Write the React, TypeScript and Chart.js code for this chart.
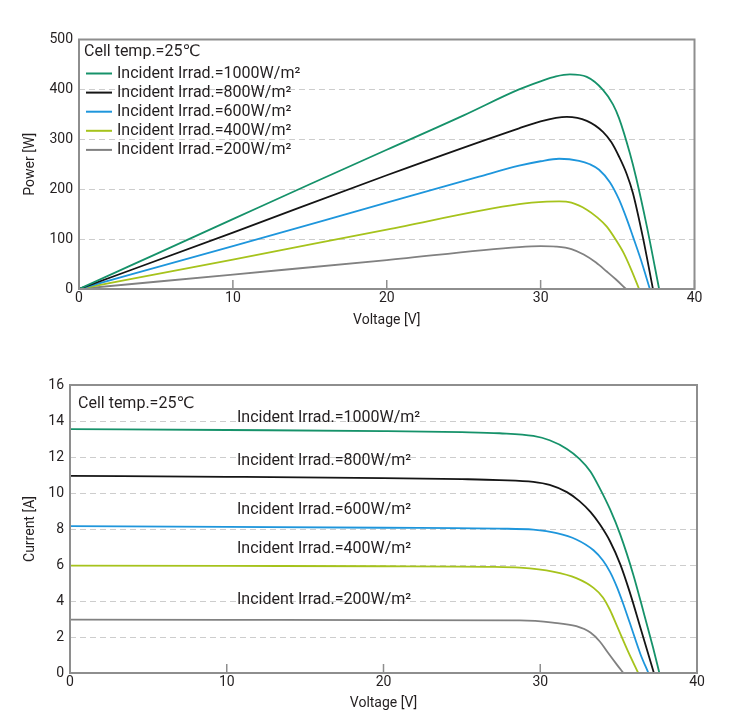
import React, { useEffect, useRef } from "react";
import { Chart, registerables } from "chart.js";

Chart.register(...registerables);

// ---------- text ----------
const CELL_TEMP_TEXT = "Cell temp.=25℃";
const SERIES_LABELS = [
  "Incident Irrad.=1000W/m²",
  "Incident Irrad.=800W/m²",
  "Incident Irrad.=600W/m²",
  "Incident Irrad.=400W/m²",
  "Incident Irrad.=200W/m²",
];
const X_TITLE = "Voltage [V]";
const PV_Y_TITLE = "Power [W]";
const IV_Y_TITLE = "Current [A]";

// ---------- axes ----------
const X_MIN = 0, X_MAX = 40, X_STEP = 10;
const PV_Y_MIN = 0, PV_Y_MAX = 500, PV_Y_STEP = 100;
const IV_Y_MIN = 0, IV_Y_MAX = 16, IV_Y_STEP = 2;

// ---------- P-V data (voltage V, power W) ----------
const PV_V_1000 = [0, 5, 10, 15, 20, 25, 28.6, 29.9, 31, 31.9, 33, 34.05, 34.7, 35.1, 35.8, 36.2, 36.9, 37.7];
const PV_P_1000 = [0, 70, 140, 210, 279, 348, 400, 415, 426, 430, 425, 399, 370, 342, 272, 224, 126, 0];
const PV_V_800 = [0, 10, 20, 28.6, 30, 31, 31.7, 33, 34.05, 34.6, 35.1, 35.6, 36, 36.65, 37.3];
const PV_P_800 = [0, 113, 228, 322, 336, 343, 345, 337, 315, 294, 265, 230, 192, 103, 0];
const PV_V_600 = [0, 10, 20, 26, 28.6, 30, 31.2, 32.5, 33.2, 33.8, 34.5, 35.1, 35.6, 36, 36.5, 37.1];
const PV_P_600 = [0, 86, 173, 225, 247, 256, 261, 257, 250, 239, 214, 179, 140, 105, 60, 0];
const PV_V_400 = [0, 10, 20, 28.6, 30.4, 31.2, 32, 33, 33.7, 34.3, 34.9, 35.4, 35.9, 36.4];
const PV_P_400 = [0, 59, 119, 170, 175, 175.5, 173, 159, 143, 125, 98, 72, 38, 0];
const PV_V_200 = [0, 10, 20, 28.6, 30, 31, 32, 32.8, 33.6, 34.3, 34.9, 35.55];
const PV_P_200 = [0, 29, 58, 84, 86, 85, 80, 69, 53, 35, 19, 0];

// ---------- I-V data (voltage V, current A) ----------
const IV_V_1000 = [0, 10, 20, 25, 27.4, 29.56, 30.6, 31.7, 32.5, 33.2, 33.8, 34.45, 35.1, 35.94, 36.6, 37.2, 37.6];
const IV_I_1000 = [13.55, 13.5, 13.44, 13.38, 13.32, 13.17, 12.93, 12.45, 11.9, 11.2, 10.26, 9.1, 7.7, 5.45, 3.35, 1.4, 0];
const IV_V_800 = [0, 10, 20, 25, 27.4, 29.56, 30.6, 31.7, 32.5, 33.2, 33.8, 34.45, 35.1, 35.7, 36.4, 37.25];
const IV_I_800 = [10.95, 10.9, 10.83, 10.77, 10.72, 10.62, 10.45, 10.05, 9.55, 8.95, 8.26, 7.32, 6.05, 4.52, 2.49, 0];
const IV_V_600 = [0, 10, 20, 27.4, 29.56, 31.05, 32.3, 33.4, 34, 34.45, 34.9, 35.2, 35.7, 36.4, 36.9];
const IV_I_600 = [8.16, 8.12, 8.07, 8.02, 7.96, 7.77, 7.42, 6.82, 6.25, 5.62, 4.76, 4.07, 2.82, 1.03, 0];
const IV_V_400 = [0, 10, 20, 27, 28.7, 30.8, 32.3, 33.4, 34, 34.45, 34.9, 35.6, 36.25];
const IV_I_400 = [5.97, 5.95, 5.93, 5.9, 5.85, 5.63, 5.27, 4.73, 4.2, 3.5, 2.6, 1.2, 0];
const IV_V_200 = [0, 10, 20, 28.7, 30.8, 32.3, 33.2, 33.8, 34.3, 34.9, 35.3];
const IV_I_200 = [2.96, 2.95, 2.94, 2.92, 2.8, 2.6, 2.25, 1.75, 1.15, 0.45, 0];

// anchors (data coords) for the curve labels in the I-V chart
const IV_LABEL_V = [10.65, 10.65, 10.65, 10.65, 10.65];
const IV_LABEL_I = [14.15, 11.76, 9.05, 6.91, 4.05];

// ---------- styles ----------
const COLORS = ["#16926a", "#151515", "#1e96dc", "#a6c31c", "#818181"];
const FONT = "Roboto, 'DejaVu Sans', 'Noto Sans CJK SC', sans-serif";
const TEXT_COLOR = "#231f20";
const FRAME_COLOR = "#8e8e8e";
const GRID_COLOR = "#cdcdcd";

const PV_SERIES = [
  [PV_V_1000, PV_P_1000],
  [PV_V_800, PV_P_800],
  [PV_V_600, PV_P_600],
  [PV_V_400, PV_P_400],
  [PV_V_200, PV_P_200],
];
const IV_SERIES = [
  [IV_V_1000, IV_I_1000],
  [IV_V_800, IV_I_800],
  [IV_V_600, IV_I_600],
  [IV_V_400, IV_I_400],
  [IV_V_200, IV_I_200],
];

function makeDatasets(series: number[][][]) {
  return series.map(([xs, ys], i) => ({
    label: SERIES_LABELS[i],
    data: xs.map((v, k) => ({ x: v, y: ys[k] })),
    borderColor: COLORS[i],
    backgroundColor: COLORS[i],
    borderWidth: 1.8,
    pointRadius: 0,
    fill: false,
    cubicInterpolationMode: "monotone" as const,
  }));
}

const framePlugin = {
  id: "frame",
  afterDatasetsDraw(chart: any) {
    const { ctx, chartArea: a, scales } = chart;
    const x = scales.x;
    ctx.save();
    ctx.strokeStyle = FRAME_COLOR;
    ctx.lineWidth = 2;
    ctx.strokeRect(a.left, a.top, a.right - a.left, a.bottom - a.top);
    ctx.lineWidth = 1.5;
    x.ticks.forEach((t: any) => {
      const px = x.getPixelForValue(t.value);
      ctx.beginPath();
      ctx.moveTo(px, a.bottom);
      ctx.lineTo(px, a.bottom - 9);
      ctx.stroke();
    });
    ctx.restore();
  },
};

const pvLegendPlugin = {
  id: "pvLegend",
  afterDraw(chart: any) {
    const { ctx, chartArea: a } = chart;
    ctx.save();
    ctx.font = `16px ${FONT}`;
    ctx.fillStyle = TEXT_COLOR;
    ctx.textBaseline = "middle";
    ctx.textAlign = "left";
    ctx.fillText(CELL_TEMP_TEXT, a.left + 5, a.top + 12);
    chart.data.datasets.forEach((ds: any, i: number) => {
      const y = a.top + 34 + i * 19.1;
      ctx.strokeStyle = ds.borderColor;
      ctx.lineWidth = 2;
      ctx.beginPath();
      ctx.moveTo(a.left + 7, y);
      ctx.lineTo(a.left + 33, y);
      ctx.stroke();
      ctx.fillStyle = TEXT_COLOR;
      ctx.fillText(ds.label, a.left + 38, y);
    });
    ctx.restore();
  },
};

const ivLabelPlugin = {
  id: "ivLabels",
  afterDraw(chart: any) {
    const { ctx, chartArea: a, scales } = chart;
    ctx.save();
    ctx.font = `16px ${FONT}`;
    ctx.fillStyle = TEXT_COLOR;
    ctx.textBaseline = "middle";
    ctx.textAlign = "left";
    ctx.fillText(CELL_TEMP_TEXT, a.left + 8, a.top + 19);
    chart.data.datasets.forEach((ds: any, i: number) => {
      const px = scales.x.getPixelForValue(IV_LABEL_V[i]);
      const py = scales.y.getPixelForValue(IV_LABEL_I[i]);
      ctx.fillText(ds.label, px, py);
    });
    ctx.restore();
  },
};

function buildOptions(cfg: {
  yMin: number; yMax: number; yStep: number; yTitle: string;
  yWidth: number; xHeight: number; padTop: number; padRight: number; xTitlePad: number;
}) {
  const tickFont = { family: FONT, size: 14 };
  const titleFont = { family: FONT, size: 14 };
  return {
    responsive: false,
    animation: false as const,
    events: [],
    layout: { padding: { left: 0, right: cfg.padRight, top: cfg.padTop, bottom: 0 } },
    plugins: { legend: { display: false }, tooltip: { enabled: false } },
    scales: {
      x: {
        type: "linear" as const,
        min: X_MIN,
        max: X_MAX,
        ticks: { stepSize: X_STEP, color: TEXT_COLOR, font: tickFont, padding: 1, maxRotation: 0 },
        grid: { display: false, drawTicks: false },
        border: { display: false },
        title: {
          display: true, text: X_TITLE, color: TEXT_COLOR, font: titleFont,
          padding: { top: 0, bottom: cfg.xTitlePad },
        },
        afterFit: (s: any) => { s.height = cfg.xHeight; },
      },
      y: {
        type: "linear" as const,
        min: cfg.yMin,
        max: cfg.yMax,
        ticks: { stepSize: cfg.yStep, color: TEXT_COLOR, font: tickFont, padding: 6 },
        grid: { color: GRID_COLOR, lineWidth: 1, drawTicks: false },
        border: { display: false, dash: [6, 4] },
        title: {
          display: true, text: cfg.yTitle, color: TEXT_COLOR, font: titleFont,
          padding: { top: 21.6, bottom: 0 },
        },
        afterFit: (s: any) => { s.width = cfg.yWidth; },
      },
    },
  };
}

export default function App() {
  const pvRef = useRef<HTMLCanvasElement | null>(null);
  const ivRef = useRef<HTMLCanvasElement | null>(null);

  useEffect(() => {
    const pv = new Chart(pvRef.current as HTMLCanvasElement, {
      type: "line",
      data: { datasets: makeDatasets(PV_SERIES) as any },
      options: buildOptions({
        yMin: PV_Y_MIN, yMax: PV_Y_MAX, yStep: PV_Y_STEP, yTitle: PV_Y_TITLE,
        yWidth: 79, xHeight: 56, padTop: 39.5, padRight: 55.5, xTitlePad: 16.6,
      }) as any,
      plugins: [framePlugin, pvLegendPlugin],
    });
    const iv = new Chart(ivRef.current as HTMLCanvasElement, {
      type: "line",
      data: { datasets: makeDatasets(IV_SERIES) as any },
      options: buildOptions({
        yMin: IV_Y_MIN, yMax: IV_Y_MAX, yStep: IV_Y_STEP, yTitle: IV_Y_TITLE,
        yWidth: 70, xHeight: 51, padTop: 40, padRight: 53, xTitlePad: 12.6,
      }) as any,
      plugins: [framePlugin, ivLabelPlugin],
    });
    return () => {
      pv.destroy();
      iv.destroy();
    };
  }, []);

  return (
    <div style={{ position: "absolute", left: 0, top: 0, width: 750, height: 724, background: "#fff" }}>
      <canvas ref={pvRef} width={750} height={345} style={{ position: "absolute", left: 0, top: 0, display: "block" }} />
      <canvas ref={ivRef} width={750} height={379} style={{ position: "absolute", left: 0, top: 345, display: "block" }} />
    </div>
  );
}
